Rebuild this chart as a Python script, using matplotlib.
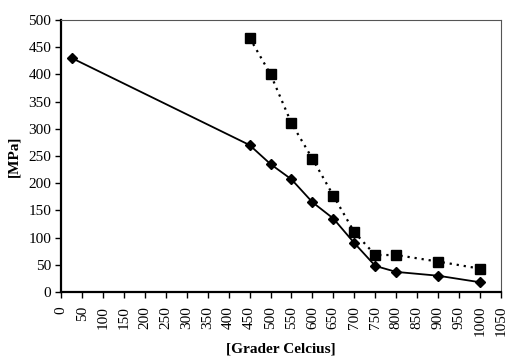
import matplotlib
matplotlib.use('Agg')
import matplotlib.pyplot as plt
import numpy as np

plt.rcParams['font.family'] = ['Liberation Serif', 'DejaVu Serif']

# ── data ─────────────────────────────────────────────
temp_a = [25, 450, 500, 550, 600, 650, 700, 750, 800, 900, 1000]
mpa_a  = [430, 270, 235, 207, 165, 135, 90, 48, 37, 30, 18]

temp_b = [450, 500, 550, 600, 650, 700, 750, 800, 900, 1000]
mpa_b  = [467, 400, 310, 245, 177, 110, 68, 68, 56, 43]

x_ticks = np.arange(0, 1051, 50)
y_ticks = np.arange(0, 501, 50)

# ── plot ─────────────────────────────────────────────
fig = plt.figure(figsize=(5.18, 3.61), dpi=100)
ax = fig.add_axes([0.118, 0.191, 0.849, 0.754])

ax.plot(temp_a, mpa_a, '-', color='black', linewidth=1.3,
        marker='D', markersize=5.5, markerfacecolor='black')
ax.plot(temp_b, mpa_b, color='black', linewidth=1.6, linestyle=(0, (1, 2.2)),
        marker='s', markersize=7, markerfacecolor='black')

ax.set_xlim(0, 1050)
ax.set_ylim(0, 500)
ax.set_xticks(x_ticks)
ax.set_xticklabels([str(t) for t in x_ticks], rotation=90)
ax.set_yticks(y_ticks)
ax.tick_params(axis='both', labelsize=11, direction='out', length=4, width=1.0)
ax.tick_params(axis='x', pad=6)
ax.tick_params(axis='y', pad=3)

for s in ['left', 'bottom']:
    ax.spines[s].set_linewidth(1.6)
for s in ['top', 'right']:
    ax.spines[s].set_linewidth(0.8)
    ax.spines[s].set_color('#555555')

ax.set_xlabel('[Grader Celcius]', fontsize=11, fontweight='bold', va='center')
ax.xaxis.set_label_coords(0.5, -0.21)
ax.set_ylabel('[MPa]', fontsize=11, fontweight='bold', labelpad=6)

fig.savefig('out.png', dpi=100)
